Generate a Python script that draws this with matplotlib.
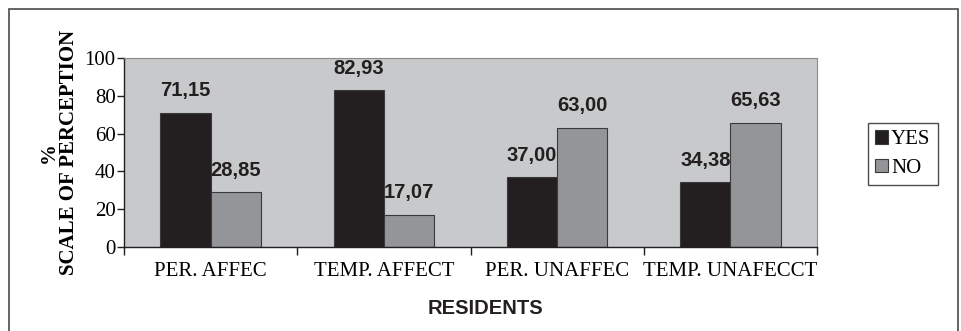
import numpy as np
import matplotlib.pyplot as plt
from matplotlib.patches import Rectangle

# --- DATA ---

categories = ['PER. AFFEC', 'TEMP. AFFECT', 'PER. UNAFFEC', 'TEMP. UNAFECCT']
yes_values = [71.15, 82.93, 37.00, 34.38]
no_values = [28.85, 17.07, 63.00, 65.63]
yes_labels = ['71,15', '82,93', '37,00', '34,38']
no_labels = ['28,85', '17,07', '63,00', '65,63']

# --- PLOT ---

serif = 'Liberation Serif'
sans = 'Liberation Sans'
fs_serif = 15
fs_sans = 14.5

fig = plt.figure(figsize=(9.61, 3.31), dpi=100)
ax = fig.add_axes([124 / 961, 1 - 247 / 331, (817 - 124) / 961, (247 - 58) / 331])

x = np.arange(len(categories))
w = 0.29
ax.bar(x - w / 2, yes_values, w, color='#231f20', edgecolor='#3a3a3a', linewidth=0.8, label='YES')
ax.bar(x + w / 2, no_values, w, color='#939598', edgecolor='#3a3a3a', linewidth=0.8, label='NO')

for xi, v, s in zip(x - w / 2, yes_values, yes_labels):
    ax.annotate(s, (xi, v), xytext=(0, 9), textcoords='offset points',
                ha='center', va='bottom', fontsize=fs_sans, fontweight='bold',
                family=sans, color='#231f20')
for xi, v, s in zip(x + w / 2, no_values, no_labels):
    ax.annotate(s, (xi, v), xytext=(0, 9), textcoords='offset points',
                ha='center', va='bottom', fontsize=fs_sans, fontweight='bold',
                family=sans, color='#231f20')

ax.set_facecolor('#c8c9cb')
ax.set_xlim(-0.5, len(categories) - 0.5)
ax.set_ylim(0, 100)
ax.set_yticks(range(0, 101, 20))
ax.set_yticklabels([str(t) for t in range(0, 101, 20)], family=serif, fontsize=fs_serif)

# category labels in the middle, ticks on the boundaries
ax.set_xticks(np.arange(-0.5, len(categories), 1.0))
ax.set_xticklabels([])
ax.set_xticks(x, minor=True)
ax.set_xticklabels(categories, minor=True, family=serif, fontsize=fs_serif)
ax.tick_params(axis='x', which='minor', length=0, pad=11)
ax.tick_params(axis='x', which='major', length=6, width=1, direction='out', color='#231f20')
ax.tick_params(axis='y', length=5, width=1, direction='out', color='#231f20', pad=1)

for side in ['top', 'right']:
    ax.spines[side].set_color('#8a8a8a')
    ax.spines[side].set_linewidth(0.8)
for side in ['left', 'bottom']:
    ax.spines[side].set_color('#231f20')
    ax.spines[side].set_linewidth(1.0)

ax.set_ylabel('%\nSCALE OF PERCEPTION', family=serif, fontsize=fs_serif,
              fontweight='bold', linespacing=1.0, labelpad=4)
fig.text(485 / 961, 1 - 308 / 331, 'RESIDENTS', family=sans,
         fontsize=fs_sans, fontweight='bold', ha='center', va='center', color='#231f20')

leg = fig.legend(loc='upper left', bbox_to_anchor=(868 / 961, 1 - 123 / 331),
                 prop={'family': serif, 'size': fs_serif}, frameon=True, fancybox=False,
                 handlelength=0.6, handleheight=0.6, handletextpad=0.15,
                 borderpad=0.35, labelspacing=0.45, borderaxespad=0)
leg.get_frame().set_edgecolor('#231f20')
leg.get_frame().set_linewidth(1.0)

# outer frame, runs off the bottom edge
frame = Rectangle((9 / 961, -0.05), (958 - 9) / 961, 1 - 9 / 331 + 0.05,
                  transform=fig.transFigure, fill=False, edgecolor='#4a4a4a',
                  linewidth=1.2, clip_on=False)
fig.patches.append(frame)

fig.savefig('out.png', dpi=100)
